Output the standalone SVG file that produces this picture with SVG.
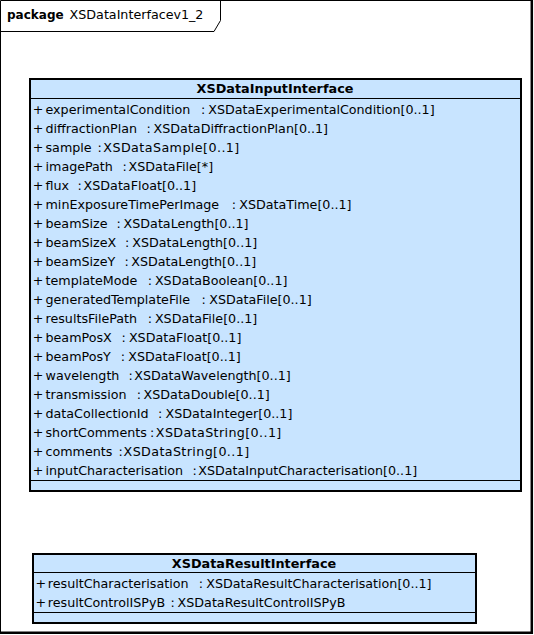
<svg xmlns="http://www.w3.org/2000/svg" width="534" height="635" viewBox="0 0 534 635">
<style>
text{font-family:"DejaVu Sans","Liberation Sans",sans-serif;font-size:12.7px;fill:#000}
.b{font-weight:bold}
.h{font-weight:bold;text-anchor:middle;font-size:12.8px}
.box{fill:#C8E4FF;stroke:#000;stroke-width:2}
.sep{stroke:#000;stroke-width:1;fill:none}
.fr{fill:none;stroke:#000}
</style>
<rect x="0" y="0" width="534" height="635" fill="#fff"/>
<g id="package">
<path class="fr" d="M0.5,632 V0.5 H531.5" stroke-width="1"/>
<path class="fr" d="M531.8,0 V632.8 H0" stroke-width="2.5"/>
<path class="fr" d="M0,31.5 H214 L220.5,20.5 V0" stroke-width="1"/>
<text x="7" y="19" class="b" style="font-size:12px">package</text>
<text x="69.6" y="19">XSDataInterfacev1_2</text>
</g>
<g id="connectors"></g>
<g id="node-input">
<rect class="box" x="30" y="79" width="491" height="412"/>
<line class="sep" x1="30" y1="98.5" x2="521" y2="98.5"/>
<line class="sep" x1="30" y1="480.5" x2="521" y2="480.5"/>
<text x="275" y="93" class="h">XSDataInputInterface</text>
<g>
<text x="32.7" y="113.5">+</text><text x="45.5" y="113.5">experimentalCondition</text><text x="201" y="113.5">:</text><text x="208.3" y="113.5">XSDataExperimentalCondition[0..1]</text>
<text x="32.7" y="132.5">+</text><text x="45.5" y="132.5">diffractionPlan</text><text x="146.6" y="132.5">:</text><text x="153.6" y="132.5">XSDataDiffractionPlan[0..1]</text>
<text x="32.7" y="151.5">+</text><text x="45.5" y="151.5">sample</text><text x="97.6" y="151.5">:</text><text x="103.3" y="151.5" textLength="136">XSDataSample[0..1]</text>
<text x="32.7" y="170.5">+</text><text x="45.5" y="170.5">imagePath</text><text x="122.5" y="170.5">:</text><text x="128.6" y="170.5">XSDataFile[*]</text>
<text x="32.7" y="189.5">+</text><text x="45.5" y="189.5">flux</text><text x="77.5" y="189.5">:</text><text x="83.6" y="189.5">XSDataFloat[0..1]</text>
<text x="32.7" y="208.5">+</text><text x="45.5" y="208.5">minExposureTimePerImage</text><text x="231.8" y="208.5">:</text><text x="239.3" y="208.5">XSDataTime[0..1]</text>
<text x="32.7" y="227.5">+</text><text x="45.5" y="227.5">beamSize</text><text x="116.5" y="227.5">:</text><text x="123.6" y="227.5">XSDataLength[0..1]</text>
<text x="32.7" y="246.5">+</text><text x="45.5" y="246.5">beamSizeX</text><text x="125" y="246.5">:</text><text x="132.3" y="246.5">XSDataLength[0..1]</text>
<text x="32.7" y="265.5">+</text><text x="45.5" y="265.5">beamSizeY</text><text x="124.4" y="265.5">:</text><text x="131.3" y="265.5">XSDataLength[0..1]</text>
<text x="32.7" y="284.5">+</text><text x="45.5" y="284.5">templateMode</text><text x="147.7" y="284.5">:</text><text x="154.9" y="284.5">XSDataBoolean[0..1]</text>
<text x="32.7" y="303.5">+</text><text x="45.5" y="303.5">generatedTemplateFile</text><text x="201.4" y="303.5">:</text><text x="209.3" y="303.5">XSDataFile[0..1]</text>
<text x="32.7" y="322.5">+</text><text x="45.5" y="322.5">resultsFilePath</text><text x="147.7" y="322.5">:</text><text x="154.9" y="322.5">XSDataFile[0..1]</text>
<text x="32.7" y="341.5">+</text><text x="45.5" y="341.5">beamPosX</text><text x="121.4" y="341.5">:</text><text x="128.9" y="341.5">XSDataFloat[0..1]</text>
<text x="32.7" y="360.5">+</text><text x="45.5" y="360.5">beamPosY</text><text x="120.8" y="360.5">:</text><text x="128.3" y="360.5">XSDataFloat[0..1]</text>
<text x="32.7" y="379.5">+</text><text x="45.5" y="379.5">wavelength</text><text x="128.4" y="379.5">:</text><text x="134.3" y="379.5">XSDataWavelength[0..1]</text>
<text x="32.7" y="398.5">+</text><text x="45.5" y="398.5">transmission</text><text x="136.7" y="398.5">:</text><text x="143.6" y="398.5">XSDataDouble[0..1]</text>
<text x="32.7" y="417.5">+</text><text x="45.5" y="417.5">dataCollectionId</text><text x="158" y="417.5">:</text><text x="165.6" y="417.5">XSDataInteger[0..1]</text>
<text x="32.7" y="436.5">+</text><text x="45.5" y="436.5">shortComments</text><text x="150" y="436.5">:</text><text x="155.8" y="436.5" textLength="125.5">XSDataString[0..1]</text>
<text x="32.7" y="455.5">+</text><text x="45.5" y="455.5">comments</text><text x="118.4" y="455.5">:</text><text x="123.6" y="455.5" textLength="125.5">XSDataString[0..1]</text>
<text x="32.7" y="474.5">+</text><text x="45.5" y="474.5">inputCharacterisation</text><text x="192.4" y="474.5">:</text><text x="198.3" y="474.5">XSDataInputCharacterisation[0..1]</text>
</g>
</g>
<g id="node-result">
<rect class="box" x="33" y="554" width="443" height="69"/>
<line class="sep" x1="33" y1="572.5" x2="476" y2="572.5"/>
<line class="sep" x1="33" y1="612.5" x2="476" y2="612.5"/>
<text x="254" y="567.5" class="h">XSDataResultInterface</text>
<text x="35.4" y="587.5">+</text><text x="47.8" y="587.5">resultCharacterisation</text><text x="198.8" y="587.5">:</text><text x="206.3" y="587.5">XSDataResultCharacterisation[0..1]</text>
<text x="35.4" y="606.5">+</text><text x="47.8" y="606.5">resultControlISPyB</text><text x="170.5" y="606.5">:</text><text x="177.6" y="606.5">XSDataResultControlISPyB</text>
</g>
</svg>
